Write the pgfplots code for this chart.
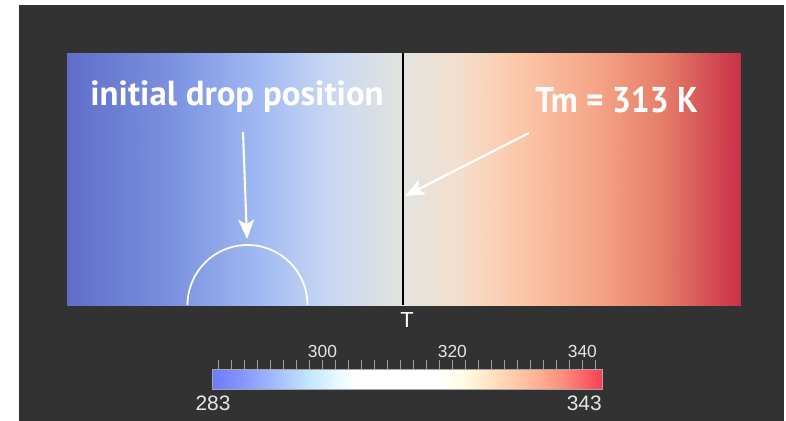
\documentclass[border=0pt]{standalone}
\usepackage{pgfplots}
\pgfplotsset{compat=1.18}
\usepackage{pgfplotstable}
\usepackage{fontspec}
\setmainfont{Liberation Sans}
\newfontfamily\ptsans{PT Sans}
\usetikzlibrary{arrows.meta}
\definecolor{bg}{HTML}{323232}
\definecolor{ticklbl}{HTML}{E6E6E6}
\pgfplotsset{
  colormap={domainmap}{rgb255(0cm)=(95,110,200) rgb255(10cm)=(125,148,225) rgb255(17cm)=(160,185,242) rgb255(23cm)=(198,214,242) rgb255(30cm)=(228,228,224) rgb255(35cm)=(244,222,204) rgb255(40cm)=(252,200,170) rgb255(47cm)=(245,165,135) rgb255(53cm)=(230,125,105) rgb255(60cm)=(200,48,72)},
  colormap={barmap}{rgb255(0cm)=(107,122,255) rgb255(5cm)=(135,152,255) rgb255(10cm)=(165,190,255) rgb255(15cm)=(195,230,255) rgb255(19cm)=(228,248,255) rgb255(22cm)=(255,255,255) rgb255(35cm)=(255,255,255) rgb255(39cm)=(255,250,225) rgb255(44cm)=(255,220,185) rgb255(49cm)=(255,185,155) rgb255(54cm)=(255,140,125) rgb255(60cm)=(245,65,85)},
}
% temperature field T(x), linear from 283 K (left) to 343 K (right)
\pgfplotstableread{
x y T
0 0 283
56.17 0 288
112.33 0 293
168.5 0 298
224.67 0 303
280.83 0 308
337 0 313
393.17 0 318
449.33 0 323
505.5 0 328
561.67 0 333
617.83 0 338
674 0 343
0 252 283
56.17 252 288
112.33 252 293
168.5 252 298
224.67 252 303
280.83 252 308
337 252 313
393.17 252 318
449.33 252 323
505.5 252 328
561.67 252 333
617.83 252 338
674 252 343
}\domaintab
\pgfplotstableread{
x y T
283 0 283
288 0 288
293 0 293
298 0 298
303 0 303
308 0 308
313 0 313
318 0 318
323 0 323
328 0 328
333 0 333
338 0 338
343 0 343
283 1 283
288 1 288
293 1 293
298 1 298
303 1 303
308 1 308
313 1 313
318 1 318
323 1 323
328 1 328
333 1 333
338 1 338
343 1 343
}\bartab
\begin{document}
\begin{tikzpicture}[x=0.02cm,y=0.02cm]
\fill[white] (0,0) rectangle (786,421);
\fill[bg] (19,0) rectangle (784,416);
% domain
\begin{axis}[at={(1.34cm,2.32cm)}, anchor=south west, scale only axis,
  width=13.48cm, height=5.04cm, xmin=0, xmax=674, ymin=0, ymax=252,
  hide axis, colormap name=domainmap, point meta min=283, point meta max=343]
\addplot[surf, shader=interp, mesh/cols=13, point meta=\thisrow{T}] table[x=x,y=y] {\domaintab};
\end{axis}
% colorbar
\begin{axis}[at={(4.24cm,0.64cm)}, anchor=south west, scale only axis,
  width=7.8cm, height=0.4cm, xmin=283, xmax=343, ymin=0, ymax=1,
  colormap name=barmap, point meta min=283, point meta max=343,
  axis line style={draw=gray!70, line width=0.4pt},
  ytick=\empty, xtick={300,320,340}, minor xtick={284,286,...,342},
  xtick pos=upper, xticklabel pos=upper, tick align=outside,
  major tick length=0.18cm, minor tick length=0.18cm,
  every tick/.style={color=gray!75!white, line width=0.5pt},
  xticklabel style={font=\fontsize{9.9}{11}\selectfont, text=ticklbl, inner sep=1pt},
  /pgf/number format/assume math mode=true,
  axis on top]
\addplot[surf, shader=interp, mesh/cols=13, point meta=\thisrow{T}] table[x=x,y=y] {\bartab};
\end{axis}
\node[anchor=base, inner sep=0, text=ticklbl, font=\fontsize{11.9}{13}\selectfont] at (213,10) {283};
\node[anchor=base east, inner sep=0, text=ticklbl, font=\fontsize{11.9}{13}\selectfont] at (602,10) {343};
% melting front
\draw[black, line width=1.1pt] (403,116) -- (403,368);
\node[anchor=base, inner sep=0, text=white, font=\fontsize{12.4}{13}\selectfont] at (407,93) {T};
% initial drop
\draw[white, line width=1pt] (307.5,116) arc[start angle=0, end angle=180, radius=60];
% annotations
\node[anchor=base west, inner sep=0, text=white, font=\ptsans\bfseries\fontsize{19.8}{22}\selectfont] at (90,315) {initial drop position};
\node[anchor=base west, inner sep=0, xscale=0.93, text=white, font=\ptsans\bfseries\fontsize{20.4}{22}\selectfont] at (535,308) {Tm = 313 K};
\draw[white, line width=1.2pt, -{Stealth[length=11pt,width=9pt,inset=2.5pt]}] (243,289) -- (247,182);
\draw[white, line width=1.2pt, -{Stealth[length=11pt,width=9pt,inset=2.5pt]}] (529,288) -- (405,225);
\end{tikzpicture}
\end{document}
